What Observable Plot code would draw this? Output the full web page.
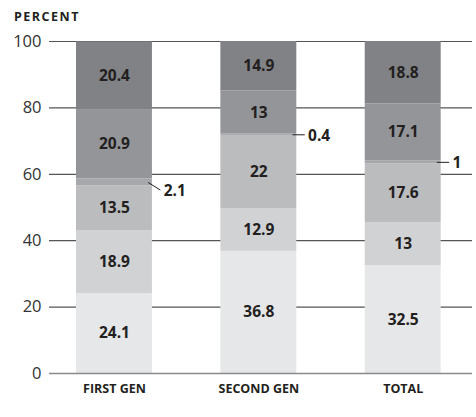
<!DOCTYPE html>
<html><head><meta charset="utf-8">
<script src="https://cdn.jsdelivr.net/npm/d3@7"></script>
<script src="https://cdn.jsdelivr.net/npm/@observablehq/plot@0.6"></script>
<style>
body{margin:0;background:#fff;font-family:"Open Sans",sans-serif;}
#title{height:30px;line-height:33px;padding-left:14px;font-weight:700;font-size:12.5px;letter-spacing:1.5px;color:#231f20;}
g[aria-label="category labels"] text{letter-spacing:1.3px;}
</style></head><body>
<div id="title">PERCENT</div>
<div id="chart"></div>
<script>
const categories = ["FIRST GEN", "SECOND GEN", "TOTAL"];
const seg1 = [24.1, 36.8, 32.5];
const seg2 = [18.9, 12.9, 13];
const seg3 = [13.5, 22, 17.6];
const seg4 = [2.1, 0.4, 1];
const seg5 = [20.9, 13, 17.1];
const seg6 = [20.4, 14.9, 18.8];
const series = [seg1, seg2, seg3, seg4, seg5, seg6];
const segmentColors = ["#e6e7e8", "#d1d2d4", "#bbbcbe", "#a7a8ab", "#939598", "#808285"];
const yTicks = [0, 20, 40, 60, 80, 100];

const rows = [];
categories.forEach((c, i) => {
  let acc = 0;
  series.forEach((s, k) => {
    const v = s[i];
    rows.push({cat: i, seg: k, value: v, y1: acc, y2: acc + v, mid: acc + v / 2});
    acc += v;
  });
});

const HALF = 0.263;          // half bar width in x units
const ink = "#231f20";
const drop = d => (d.cat === 0 ? 2.3 : 0);

const chart = Plot.plot({
  width: 476,
  height: 387,
  marginTop: 11,
  marginBottom: 44,
  marginLeft: 49,
  marginRight: 4,
  style: {fontFamily: "'Open Sans', sans-serif", background: "#fff", overflow: "visible"},
  x: {type: "linear", domain: [-0.45, 2.48], axis: null},
  y: {domain: [0, 100], axis: null},
  color: {type: "ordinal", domain: [0, 1, 2, 3, 4, 5], range: segmentColors},
  marks: [
    Plot.ruleY(yTicks.filter(t => t > 0), {stroke: "#555", strokeWidth: 1.2}),
    Plot.rectY(rows, {x1: d => d.cat - HALF, x2: d => d.cat + HALF, y1: "y1", y2: "y2", fill: "seg"}),
    Plot.ruleY([0], {stroke: "#8a8a8a", strokeWidth: 1.6}),
    Plot.text(rows.filter(d => d.seg !== 3), {
      x: "cat", y: "mid", text: d => String(d.value),
      fontSize: 15.5, fontWeight: 700, fill: ink
    }),
    Plot.link(rows.filter(d => d.seg === 3), {
      x1: d => d.cat + HALF - 0.03, y1: "mid",
      x2: d => d.cat + HALF + 0.055, y2: d => d.mid - drop(d),
      stroke: ink, strokeWidth: 1
    }),
    Plot.text(rows.filter(d => d.seg === 3), {
      x: d => d.cat + HALF + 0.078, y: d => d.mid - drop(d), dy: 1,
      text: d => String(d.value), textAnchor: "start",
      fontSize: 15.5, fontWeight: 700, fill: ink
    }),
    Plot.text(categories, {
      x: (d, i) => i, text: d => d, frameAnchor: "bottom", dy: 19,
      fontSize: 12.5, fontWeight: 700, fill: ink, ariaLabel: "category labels"
    }),
    Plot.text(yTicks, {
      y: d => d, text: d => String(d), frameAnchor: "left", textAnchor: "end", dx: -8,
      fontSize: 16.5, fill: "#333"
    })
  ]
});
document.getElementById("chart").appendChild(chart);
</script>
</body></html>
